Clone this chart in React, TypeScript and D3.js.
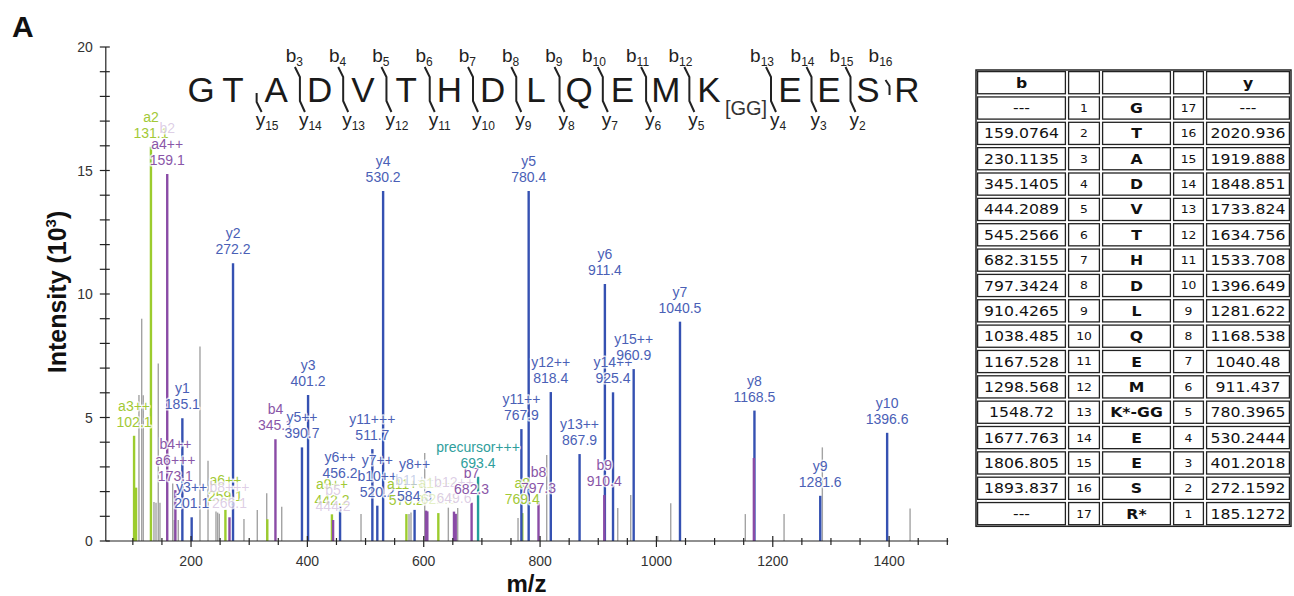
import { useEffect, useRef } from 'react';
import * as d3 from 'd3';

// ---- spectrum (m/z, intensity in 10^3) ----
// label lines starting with "~" are the faint overlapped annotations
const aIonPeaks = [
    { mz: 102.1, intensity: 4.26, label: ['a3++', '102.1'] },
    { mz: 105.5, intensity: 2.16 },
    { mz: 131.1, intensity: 15.96, label: ['a2', '131.1'] },
    { mz: 259.1, intensity: 1.26, label: ['a6++', '259.1'] },
    { mz: 331.1, intensity: 0.88 },
    { mz: 442.2, intensity: 1.08, label: ['a9++', '442.2'] },
    { mz: 570.2, intensity: 1.09, label: ['a11++', '570.2'] },
    { mz: 625.1, intensity: 1.13, label: ['~a12++', '~622.8'] },
    { mz: 769.4, intensity: 1.13, label: ['a8', '769.4'] },
];

const bIonPeaks = [
    { mz: 159.1, intensity: 14.86, label: ['~b2', 'a4++', '159.1'] },
    { mz: 173.1, intensity: 2.06, label: ['b4++', 'a6+++', '173.1'] },
    { mz: 266.1, intensity: 0.96, label: ['~b8+++', '~266.1'] },
    { mz: 345.1, intensity: 4.12, label: ['b4', '345.1'] },
    { mz: 444.2, intensity: 0.85, label: ['~b5', '~444.2'] },
    { mz: 604.0, intensity: 1.23 },
    { mz: 606.2, intensity: 1.2 },
    { mz: 652.0, intensity: 1.19, label: ['~b12++', '~649.6'] },
    { mz: 655.0, intensity: 1.1 },
    { mz: 682.3, intensity: 1.55, label: ['b7', '682.3'] },
    { mz: 797.3, intensity: 1.59, label: ['b8', '797.3'] },
    { mz: 910.4, intensity: 1.86, label: ['b9', '910.4'] },
    { mz: 1167.5, intensity: 3.36 },
];

const yIonPeaks = [
    { mz: 185.1, intensity: 4.97, label: ['y1', '185.1'] },
    { mz: 201.1, intensity: 0.96, label: ['y3++', '201.1'] },
    { mz: 272.2, intensity: 11.24, label: ['y2', '272.2'] },
    { mz: 390.7, intensity: 3.79, label: ['y5++', '390.7'] },
    { mz: 401.2, intensity: 5.91, label: ['y3', '401.2'] },
    { mz: 456.2, intensity: 1.39, label: ['y6++', '456.2'] },
    { mz: 511.7, intensity: 3.72, label: ['y11+++', '511.7'] },
    { mz: 520.2, intensity: 1.43, label: ['y7++', 'b10++', '520.2'] },
    { mz: 530.2, intensity: 14.17, label: ['y4', '530.2'] },
    { mz: 584.3, intensity: 1.26, label: ['y8++', '~b11++', '584.3'] },
    { mz: 767.9, intensity: 4.53, label: ['y11++', '767.9'] },
    { mz: 780.4, intensity: 14.17, label: ['y5', '780.4'] },
    { mz: 818.4, intensity: 6.03, label: ['y12++', '818.4'] },
    { mz: 867.9, intensity: 3.52, label: ['y13++', '867.9'] },
    { mz: 911.4, intensity: 10.4, label: ['y6', '911.4'] },
    { mz: 925.4, intensity: 6.02, label: ['y14++', '925.4'] },
    { mz: 960.9, intensity: 6.96, label: ['y15++', '960.9'] },
    { mz: 1040.5, intensity: 8.88, label: ['y7', '1040.5'] },
    { mz: 1168.5, intensity: 5.28, label: ['y8', '1168.5'] },
    { mz: 1281.6, intensity: 1.83, label: ['y9', '1281.6'] },
    { mz: 1396.6, intensity: 4.38, label: ['y10', '1396.6'] },
];

const precursorPeaks = [
    { mz: 693.4, intensity: 2.6, label: ['precursor+++', '693.4'] },
];

const unassignedPeaks = [
    { mz: 110.5, intensity: 5.91 }, { mz: 115.2, intensity: 9.0 }, { mz: 117.9, intensity: 5.9 },
    { mz: 136.3, intensity: 1.58 }, { mz: 139.8, intensity: 1.55 }, { mz: 143.7, intensity: 7.19 },
    { mz: 146.6, intensity: 1.55 }, { mz: 168.5, intensity: 2.33 }, { mz: 171.2, intensity: 0.85 },
    { mz: 178.1, intensity: 0.85 }, { mz: 215.4, intensity: 7.87 }, { mz: 229.2, intensity: 3.25 },
    { mz: 242.9, intensity: 1.19 }, { mz: 245.8, intensity: 1.15 }, { mz: 248.6, intensity: 1.1 },
    { mz: 291.0, intensity: 0.89 }, { mz: 313.9, intensity: 1.26 }, { mz: 330.1, intensity: 1.93 },
    { mz: 355.9, intensity: 1.39 }, { mz: 492.2, intensity: 1.09 }, { mz: 574.7, intensity: 1.09 },
    { mz: 578.1, intensity: 1.15 }, { mz: 601.7, intensity: 3.56 }, { mz: 642.3, intensity: 1.35 },
    { mz: 658.4, intensity: 1.34 }, { mz: 762.1, intensity: 0.93 }, { mz: 811.4, intensity: 3.48 },
    { mz: 933.5, intensity: 1.34 }, { mz: 955.8, intensity: 1.86 }, { mz: 1002.2, intensity: 0.2 },
    { mz: 1024.6, intensity: 1.53 }, { mz: 1040.6, intensity: 1.93 }, { mz: 1152.8, intensity: 1.09 },
    { mz: 1219.4, intensity: 1.09 }, { mz: 1285.2, intensity: 3.79 }, { mz: 1436.0, intensity: 1.32 },
];

const xTickLabels = [200, 400, 600, 800, 1000, 1200, 1400];
const yTickLabels = [0, 5, 10, 15, 20];

// ---- peptide ----
const sequence = ['G', 'T', 'A', 'D', 'V', 'T', 'H', 'D', 'L', 'Q', 'E', 'M', 'K', 'E', 'E', 'S', 'R'];
const modifiedResidue = 12;
const modificationLabel = '[GG]';
const observedB = [3, 4, 5, 6, 7, 8, 9, 10, 11, 12, 13, 14, 15, 16];
const observedY = [2, 3, 4, 5, 6, 7, 8, 9, 10, 11, 12, 13, 14, 15];

// ---- fragment table ----
const tableB = ['---', '159.0764', '230.1135', '345.1405', '444.2089', '545.2566', '682.3155', '797.3424',
    '910.4265', '1038.485', '1167.528', '1298.568', '1548.72', '1677.763', '1806.805', '1893.837', '---'];
const tableResidues = ['G', 'T', 'A', 'D', 'V', 'T', 'H', 'D', 'L', 'Q', 'E', 'M', 'K*-GG', 'E', 'E', 'S', 'R*'];
const tableY = ['---', '2020.936', '1919.888', '1848.851', '1733.824', '1634.756', '1533.708', '1396.649',
    '1281.622', '1168.538', '1040.48', '911.437', '780.3965', '530.2444', '401.2018', '272.1592', '185.1272'];

// label nudges (layout only)
const labelNudge: Record<string, number> = { 'y6++': -20 };

const W = 1294;
const H = 596;

export default function App() {
    const svgRef = useRef<SVGSVGElement>(null);

    useEffect(() => {
        const svg = d3.select(svgRef.current);
        svg.selectAll('*').remove();

        const sans = "'Liberation Sans', Arial, sans-serif";

        const x = d3.scaleLinear().domain([53.5, 1500]).range([105.8, 947.3]);
        const y = d3.scaleLinear().domain([0, 20]).range([541, 47]);

        // panel letter
        svg.append('text').attr('x', 12).attr('y', 37)
            .style('font', `bold 30px ${sans}`).attr('fill', '#111').text('A');

        // bars
        const drawBars = (peaks, color, width) => {
            svg.append('g')
                .selectAll('line')
                .data(peaks)
                .join('line')
                .attr('x1', (d) => x(d.mz))
                .attr('x2', (d) => x(d.mz))
                .attr('y1', y(0))
                .attr('y2', (d) => y(d.intensity))
                .attr('stroke', color)
                .attr('stroke-width', width);
        };

        const series = [
            { peaks: aIonPeaks, bar: '#9ccc2e', text: '#a2c936' },
            { peaks: precursorPeaks, bar: '#22a09c', text: '#2e9e9c' },
            { peaks: yIonPeaks, bar: '#3551b2', text: '#4a60b6' },
            { peaks: bIonPeaks, bar: '#8a4ba6', text: '#8a56a8' },
        ];

        drawBars(unassignedPeaks, '#a3a3a3', 1.4);
        series.forEach((s) => drawBars(s.peaks, s.bar, 2.4));

        // axes
        const axis = svg.append('g').attr('stroke', '#222').attr('stroke-width', 1.2);
        axis.append('line').attr('x1', x.range()[0]).attr('x2', x.range()[0])
            .attr('y1', y(0)).attr('y2', y(20));
        axis.append('line').attr('x1', x.range()[0]).attr('x2', x.range()[1] + 1)
            .attr('y1', y(0)).attr('y2', y(0));

        axis.selectAll('.yt').data(d3.range(0, 21)).join('line')
            .attr('x1', x.range()[0] - 6).attr('x2', x.range()[0] + 4)
            .attr('y1', (d) => y(d)).attr('y2', (d) => y(d));

        axis.selectAll('.xt').data(d3.range(100, 1501, 50)).join('line')
            .attr('x1', (d) => x(d)).attr('x2', (d) => x(d))
            .attr('y1', (d) => y(0) - (d % 200 === 0 ? 5 : 3))
            .attr('y2', (d) => y(0) + (d % 200 === 0 ? 6 : 4));

        svg.append('g').selectAll('text').data(yTickLabels).join('text')
            .attr('x', x.range()[0] - 13).attr('y', (d) => y(d) + 5)
            .attr('text-anchor', 'end')
            .style('font', `14px ${sans}`).attr('fill', '#333')
            .text((d) => d);

        svg.append('g').selectAll('text').data(xTickLabels).join('text')
            .attr('x', (d) => x(d)).attr('y', y(0) + 25)
            .attr('text-anchor', 'middle')
            .style('font', `14px ${sans}`).attr('fill', '#333')
            .text((d) => d);

        // axis titles
        const yTitle = svg.append('text')
            .attr('transform', 'translate(66,292) rotate(-90)')
            .attr('text-anchor', 'middle')
            .style('font', `bold 25px ${sans}`).attr('fill', '#111');
        yTitle.append('tspan').text('Intensity (10');
        yTitle.append('tspan').attr('dy', -10).style('font-size', '15px').text('3');
        yTitle.append('tspan').attr('dy', 10).text(')');

        svg.append('text').attr('x', (x.range()[0] + x.range()[1]) / 2).attr('y', 592)
            .attr('text-anchor', 'middle')
            .style('font', `bold 24px ${sans}`).attr('fill', '#111').text('m/z');

        // peak labels
        const labelled = series
            .flatMap((s) => s.peaks.filter((p) => p.label).map((p) => ({ ...p, color: s.text })))
            .sort((a, b) => a.mz - b.mz);

        const labels = svg.append('g').style('font', `14px ${sans}`).attr('text-anchor', 'middle');
        labelled.forEach((p) => {
            const n = p.label.length;
            const base = y(p.intensity) - 9 + (labelNudge[p.label[0]] || 0);
            p.label.forEach((line, k) => {
                const faint = line.startsWith('~');
                labels.append('text')
                    .attr('x', x(p.mz))
                    .attr('y', base - (n - 1 - k) * 16)
                    .attr('fill', p.color)
                    .attr('fill-opacity', faint ? 0.3 : 1)
                    .attr('stroke', '#fff')
                    .attr('stroke-opacity', 0.75)
                    .attr('stroke-width', 3)
                    .attr('stroke-linejoin', 'round')
                    .style('paint-order', 'stroke')
                    .text(faint ? line.slice(1) : line);
            });
        });

        // peptide sequence with fragment markers
        const seqX = (i) => (i === 0 ? 201 : i <= 12
            ? d3.scaleLinear().domain([1, 12]).range([233, 709])(i)
            : d3.scaleLinear().domain([13, 16]).range([790, 907])(i));

        const pep = svg.append('g');
        pep.selectAll('text.res').data(sequence).join('text')
            .attr('x', (d, i) => seqX(i)).attr('y', 102)
            .attr('text-anchor', 'middle')
            .style('font', `35px ${sans}`).attr('fill', '#1a1a1a')
            .text((d) => d);
        pep.append('text')
            .attr('x', seqX(modifiedResidue) + 37).attr('y', 115)
            .attr('text-anchor', 'middle')
            .style('font', `20px ${sans}`).attr('fill', '#333')
            .text(modificationLabel);

        for (let pos = 2; pos <= 16; pos++) {
            const hasB = observedB.includes(pos);
            const hasY = observedY.includes(sequence.length - pos);
            if (!hasB && !hasY) continue;
            const m = pos === modifiedResidue + 1 ? seqX(pos) - 19 : (seqX(pos - 1) + seqX(pos)) / 2 + 2;
            let path = '';
            if (hasB && hasY) path = `M${m - 5},67 L${m},77 L${m},101 L${m + 5},112`;
            else if (hasY) path = `M${m},93 L${m},102 L${m + 5},112`;
            else path = `M${m - 4},80 L${m},86 L${m},95`;
            pep.append('path').attr('d', path).attr('fill', 'none')
                .attr('stroke', '#222').attr('stroke-width', 2);
            if (hasB) {
                const t = pep.append('text').attr('x', m + 3).attr('y', 62)
                    .attr('text-anchor', 'end').style('font', `19px ${sans}`).attr('fill', '#222');
                t.append('tspan').text('b');
                t.append('tspan').attr('dy', 4).style('font-size', '12px').text(pos);
            }
            if (hasY) {
                const t = pep.append('text').attr('x', m - 1).attr('y', 126)
                    .attr('text-anchor', 'start').style('font', `19px ${sans}`).attr('fill', '#222');
                t.append('tspan').text('y');
                t.append('tspan').attr('dy', 4).style('font-size', '12px').text(sequence.length - pos);
            }
        }

        // fragment table
        const cols = [976, 1067, 1101, 1172, 1205, 1291];
        const rowTop = 70;
        const rowH = 25.35;
        const tbl = svg.append('g');
        const verdana = "'DejaVu Sans', Verdana, sans-serif";
        const nRows = tableResidues.length + 1;

        tbl.append('rect').attr('x', cols[0]).attr('y', rowTop)
            .attr('width', cols[5] - cols[0]).attr('height', nRows * rowH)
            .attr('fill', 'none').attr('stroke', '#222').attr('stroke-width', 1.5);

        for (let r = 0; r < nRows; r++) {
            for (let c = 0; c < 5; c++) {
                tbl.append('rect')
                    .attr('x', cols[c] + 1.6).attr('y', rowTop + r * rowH + 1.6)
                    .attr('width', cols[c + 1] - cols[c] - 3.2).attr('height', rowH - 3.2)
                    .attr('fill', 'none').attr('stroke', '#222').attr('stroke-width', 1.3);
            }
        }

        const cell = (c, r, txt, size, bold) => {
            const cx = (cols[c] + cols[c + 1]) / 2;
            const cy = rowTop + r * rowH + rowH / 2 + size * 0.36;
            tbl.append('text')
                .attr('transform', `translate(${cx},${cy}) scale(1.12,1)`)
                .attr('text-anchor', 'middle')
                .style('font', `${bold ? 'bold ' : ''}${size}px ${verdana}`)
                .attr('fill', '#111')
                .text(txt);
        };

        cell(0, 0, 'b', 14, true);
        cell(4, 0, 'y', 14, true);
        tableResidues.forEach((res, i) => {
            cell(0, i + 1, tableB[i], 14, false);
            cell(1, i + 1, i + 1, 11, false);
            cell(2, i + 1, res, 14, true);
            cell(3, i + 1, tableResidues.length - i, 11, false);
            cell(4, i + 1, tableY[i], 14, false);
        });
    }, []);

    return (
        <svg
            ref={svgRef}
            width={W}
            height={H}
            style={{ position: 'absolute', left: 0, top: 0, background: '#fff' }}
        />
    );
}
